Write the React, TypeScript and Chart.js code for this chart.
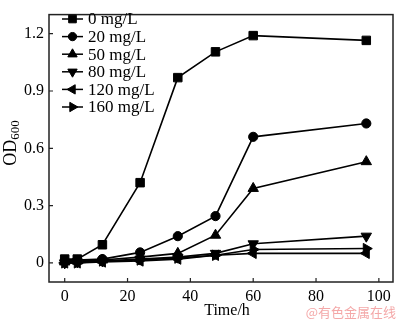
import React, { useEffect, useRef } from "react";
import { Chart, registerables } from "chart.js";
import { drawPoint } from "chart.js/helpers";

Chart.register(...registerables);

const TIMES = [0, 4, 12, 24, 36, 48, 60, 96];
const SERIES_LABELS = ["0 mg/L", "20 mg/L", "50 mg/L", "80 mg/L", "120 mg/L", "160 mg/L"];
const S0 = [0.02, 0.02, 0.095, 0.42, 0.97, 1.105, 1.19, 1.165];
const S20 = [0.01, 0.015, 0.02, 0.055, 0.14, 0.245, 0.66, 0.73];
const S50 = [0.005, 0.01, 0.015, 0.03, 0.05, 0.145, 0.39, 0.53];
const S80 = [0.0, 0.005, 0.01, 0.02, 0.03, 0.05, 0.1, 0.14];
const S120 = [0.0, 0.0, 0.005, 0.01, 0.02, 0.04, 0.05, 0.05];
const S160 = [0.0, 0.0, 0.01, 0.015, 0.025, 0.04, 0.07, 0.075];
const X_TICKS = [0, 20, 40, 60, 80, 100];
const Y_TICKS = [0, 0.3, 0.6, 0.9, 1.2];
const Y_TICK_LABELS = ["0", "0.3", "0.6", "0.9", "1.2"];

const SERIF = '"Liberation Serif", "Times New Roman", serif';

const STYLES = [
  { pointStyle: "rect", rotation: 0, radius: 6 },
  { pointStyle: "circle", rotation: 0, radius: 4.6 },
  { pointStyle: "triangle", rotation: 0, radius: 6 },
  { pointStyle: "triangle", rotation: 180, radius: 6 },
  { pointStyle: "triangle", rotation: 270, radius: 6 },
  { pointStyle: "triangle", rotation: 90, radius: 6 },
];

const decorPlugin = {
  id: "decor",
  afterDraw(chart: any) {
    const ctx = chart.ctx;
    const { left, right, top, bottom } = chart.chartArea;
    const xs = chart.scales.x;
    const ys = chart.scales.y;
    ctx.save();
    // frame
    ctx.strokeStyle = "#222";
    ctx.lineWidth = 1.5;
    ctx.strokeRect(left, top, right - left, bottom - top);
    // inward ticks
    ctx.lineWidth = 1.2;
    ctx.beginPath();
    X_TICKS.forEach((v) => {
      const px = xs.getPixelForValue(v);
      ctx.moveTo(px, bottom);
      ctx.lineTo(px, bottom - 4);
    });
    Y_TICKS.forEach((v) => {
      const py = ys.getPixelForValue(v);
      ctx.moveTo(left, py);
      ctx.lineTo(left + 4, py);
    });
    ctx.stroke();

    // legend
    ctx.fillStyle = "#000";
    ctx.strokeStyle = "#000";
    SERIES_LABELS.forEach((lab, i) => {
      const y = 19 + i * 17.6;
      ctx.lineWidth = 1.5;
      ctx.beginPath();
      ctx.moveTo(62, y);
      ctx.lineTo(83, y);
      ctx.stroke();
      const st = STYLES[i];
      ctx.lineWidth = 1;
      drawPoint(ctx, { pointStyle: st.pointStyle, rotation: st.rotation, radius: st.radius * 0.9, borderWidth: 1 } as any, 72.5, y);
      ctx.font = `17px ${SERIF}`;
      ctx.textAlign = "left";
      ctx.textBaseline = "middle";
      ctx.fillText(lab, 88, y + 1);
    });

    // x title
    ctx.font = `16px ${SERIF}`;
    ctx.textAlign = "center";
    ctx.textBaseline = "alphabetic";
    ctx.fillStyle = "#000";
    ctx.fillText("Time/h", 227, 315);

    // y title OD600 rotated
    ctx.save();
    ctx.translate(16, 143);
    ctx.rotate(-Math.PI / 2);
    ctx.font = `18px ${SERIF}`;
    const w1 = ctx.measureText("OD").width;
    ctx.font = `13px ${SERIF}`;
    const w2 = ctx.measureText("600").width;
    const start = -(w1 + w2) / 2;
    ctx.textAlign = "left";
    ctx.font = `18px ${SERIF}`;
    ctx.fillText("OD", start, 0);
    ctx.font = `13px ${SERIF}`;
    ctx.fillText("600", start + w1, 3);
    ctx.restore();

    // watermark
    ctx.font = '13px "Noto Sans CJK SC", sans-serif';
    ctx.fillStyle = "rgb(244,168,168)";
    ctx.textAlign = "right";
    ctx.textBaseline = "middle";
    ctx.fillText("@有色金属在线", 396, 312);
    ctx.restore();
  },
};

export default function App() {
  const ref = useRef<HTMLCanvasElement | null>(null);
  useEffect(() => {
    document.body.style.margin = "0";
    const allSeries = [S0, S20, S50, S80, S120, S160];
    const chart = new Chart(ref.current as HTMLCanvasElement, {
      type: "line",
      data: {
        datasets: allSeries.map((s, i) => ({
          label: SERIES_LABELS[i],
          data: s.map((v, j) => ({ x: TIMES[j], y: v })),
          borderColor: "#000",
          backgroundColor: "#000",
          borderWidth: 1.6,
          pointStyle: STYLES[i].pointStyle as any,
          rotation: STYLES[i].rotation,
          pointRadius: STYLES[i].radius,
          pointBorderWidth: 1,
          tension: 0,
        })),
      },
      options: {
        animation: false,
        responsive: false,
        layout: { padding: { top: 1, right: 3, left: 0, bottom: 0 } },
        plugins: { legend: { display: false }, tooltip: { enabled: false } },
        scales: {
          x: {
            type: "linear",
            min: -5,
            max: 104.5,
            grid: { display: false, drawTicks: false },
            border: { display: false },
            afterBuildTicks: (s: any) => {
              s.ticks = X_TICKS.map((v) => ({ value: v }));
            },
            afterFit: (s: any) => {
              s.height = 41;
            },
            ticks: {
              padding: 5,
              maxRotation: 0,
              color: "#000",
              font: { family: SERIF, size: 16 },
              callback: (v: any) => String(v),
            },
          },
          y: {
            type: "linear",
            min: -0.1,
            max: 1.3,
            grid: { display: false, drawTicks: false },
            border: { display: false },
            afterBuildTicks: (s: any) => {
              s.ticks = Y_TICKS.map((v) => ({ value: v }));
            },
            afterFit: (s: any) => {
              s.width = 49;
            },
            ticks: {
              padding: 5,
              color: "#000",
              font: { family: SERIF, size: 16 },
              callback: (v: any) => {
                const idx = Y_TICKS.findIndex((t) => Math.abs(t - v) < 1e-9);
                return idx >= 0 ? Y_TICK_LABELS[idx] : "";
              },
            },
          },
        },
      },
      plugins: [decorPlugin],
    });
    return () => chart.destroy();
  }, []);
  return (
    <canvas ref={ref} width={400} height={323} style={{ display: "block", width: 400, height: 323 }} />
  );
}
